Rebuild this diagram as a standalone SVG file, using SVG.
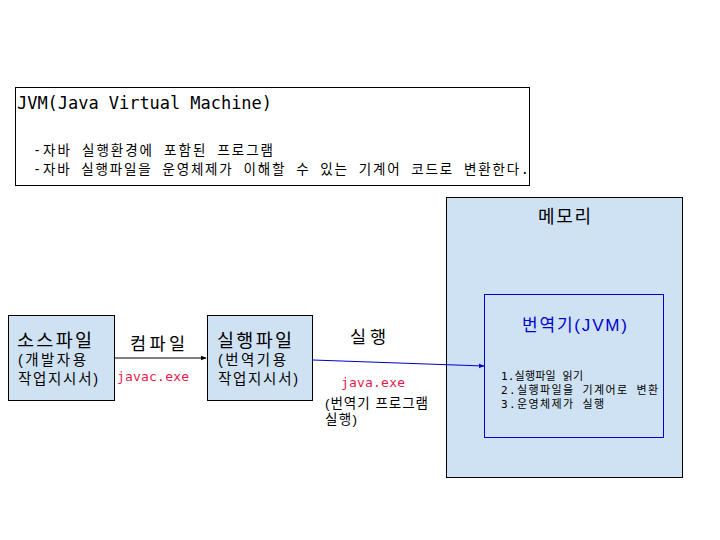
<svg xmlns="http://www.w3.org/2000/svg" width="720" height="540" viewBox="0 0 720 540">
<defs>
<style>
.box{fill:#cfe2f3;stroke:#000;stroke-width:1}
.ko{font-family:"Liberation Sans","Noto Sans CJK KR",sans-serif;fill:#000}
.mono{font-family:"DejaVu Sans Mono","Liberation Mono","Noto Sans CJK KR",monospace;fill:#000}
.red{fill:#e6194b}
</style>
<marker id="ab" viewBox="0 0 10 10" refX="9" refY="5" markerWidth="6" markerHeight="6" orient="auto"><path d="M0,1 L10,5 L0,9 z" fill="#000"/></marker>
<marker id="ab2" viewBox="0 0 10 10" refX="9" refY="5" markerWidth="6" markerHeight="6" orient="auto"><path d="M0,1 L10,5 L0,9 z" fill="#0000cc"/></marker>
</defs>
<rect width="720" height="540" fill="#fff"/>
<g id="jvm-note">
<rect x="15.5" y="87.5" width="514" height="98" fill="#fff" stroke="#000"/>
<text class="mono" x="17" y="109" font-size="17" textLength="255" lengthAdjust="spacing">JVM(Java Virtual Machine)</text>
<text class="mono" x="33" y="155" font-size="13.5" textLength="240" lengthAdjust="spacing">-자바 실행환경에 포함된 프로그램</text>
<text class="mono" x="33" y="174" font-size="13.5" textLength="496" lengthAdjust="spacing">-자바 실행파일을 운영체제가 이해할 수 있는 기계어 코드로 변환한다.</text>
</g>
<g id="memory">
<rect class="box" x="446.5" y="197.5" width="236" height="280"/>
<text class="ko" x="538" y="223" font-size="18" textLength="53" lengthAdjust="spacing">메모리</text>
</g>
<g id="jvm">
<rect x="484.5" y="294.5" width="179" height="143" fill="#cfe2f3" stroke="#0000cc"/>
<text class="ko" x="522" y="331" font-size="17" textLength="105" lengthAdjust="spacing" style="fill:#0000cc">번역기(JVM)</text>
<text class="mono" x="501" y="380" font-size="11" textLength="82" lengthAdjust="spacing">1.실행파일 읽기</text>
<text class="mono" x="501" y="394" font-size="11" textLength="157" lengthAdjust="spacing">2.실행파일을 기계어로 변환</text>
<text class="mono" x="501" y="408" font-size="11" textLength="103" lengthAdjust="spacing">3.운영체제가 실행</text>
</g>
<g id="source">
<rect class="box" x="8.5" y="315.5" width="106" height="85"/>
<text class="ko" x="17" y="347" font-size="18.5" textLength="75" lengthAdjust="spacing">소스파일</text>
<text class="ko" x="18" y="365" font-size="14.5" textLength="68" lengthAdjust="spacing">(개발자용</text>
<text class="ko" x="18" y="384" font-size="14.5" textLength="80" lengthAdjust="spacing">작업지시서)</text>
</g>
<g id="exec">
<rect class="box" x="207.5" y="315.5" width="105" height="85"/>
<text class="ko" x="217" y="347" font-size="18.5" textLength="75" lengthAdjust="spacing">실행파일</text>
<text class="ko" x="218" y="365" font-size="14.5" textLength="68" lengthAdjust="spacing">(번역기용</text>
<text class="ko" x="218" y="384" font-size="14.5" textLength="80" lengthAdjust="spacing">작업지시서)</text>
</g>
<g id="connectors">
<line x1="114.5" y1="358" x2="206" y2="358" stroke="#000" marker-end="url(#ab)"/>
<line x1="312.5" y1="360" x2="484" y2="366" stroke="#0000cc" marker-end="url(#ab2)"/>
<text class="ko" x="130" y="350" font-size="17.5" textLength="55" lengthAdjust="spacing">컴파일</text>
<text class="mono red" x="117" y="381" font-size="13" textLength="72" lengthAdjust="spacing" style="fill:#e6194b">javac.exe</text>
<text class="ko" x="350" y="343" font-size="17.5" textLength="36" lengthAdjust="spacing">실행</text>
<text class="mono red" x="341" y="387" font-size="13" textLength="64" lengthAdjust="spacing" style="fill:#e6194b">java.exe</text>
<text class="ko" x="325" y="408" font-size="13.5" textLength="103" lengthAdjust="spacing">(번역기 프로그램</text>
<text class="ko" x="325" y="424" font-size="13.5" textLength="32" lengthAdjust="spacing">실행)</text>
</g>
</svg>
